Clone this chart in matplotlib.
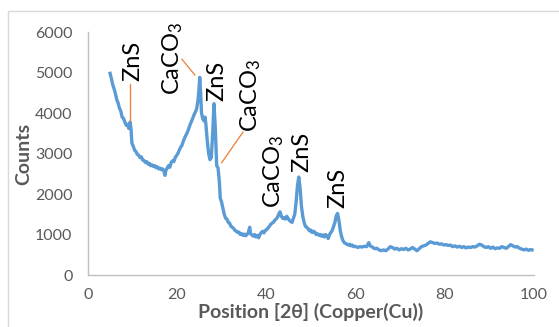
import matplotlib
matplotlib.use('Agg')
import matplotlib.pyplot as plt
from matplotlib.patches import Rectangle

# XRD pattern
two_theta = [5.0, 5.3, 5.6, 5.9, 6.2, 6.5, 6.8, 7.1, 7.4, 7.7, 8.0, 8.3, 8.6, 8.9, 9.2, 9.5, 9.7, 9.9,
             10.2, 10.5, 10.8, 11.1, 11.4, 11.7, 12.0, 12.3, 12.6, 12.9, 13.2, 13.5, 13.8, 14.1, 14.4,
             14.7, 15.0, 15.3, 15.6, 15.9, 16.2, 16.5, 16.8, 17.1, 17.3, 17.5, 17.8, 18.1, 18.4, 18.7,
             19.0, 19.3, 19.6, 19.9, 20.2, 20.5, 20.8, 21.1, 21.4, 21.7, 22.0, 22.3, 22.6, 22.9, 23.2,
             23.5, 23.8, 24.1, 24.4, 24.7, 24.9, 25.1, 25.3, 25.5, 25.8, 26.1, 26.3, 26.5, 26.8, 27.1,
             27.4, 27.7, 28.0, 28.3, 28.6, 28.9, 29.2, 29.5, 29.7, 30.0, 30.3, 30.6, 30.9, 31.2, 31.5,
             31.8, 32.1, 32.4, 32.7, 33.0, 33.3, 33.6, 33.9, 34.2, 34.5, 34.8, 35.1, 35.4, 35.7, 36.0,
             36.3, 36.5, 36.8, 37.1, 37.4, 37.7, 38.0, 38.3, 38.6, 38.9, 39.2, 39.5, 39.8, 40.1, 40.4,
             40.7, 41.0, 41.3, 41.6, 41.9, 42.2, 42.5, 42.8, 43.1, 43.4, 43.7, 44.0, 44.3, 44.6, 44.9,
             45.2, 45.5, 45.8, 46.1, 46.4, 46.7, 47.0, 47.3, 47.6, 47.9, 48.2, 48.5, 48.8, 49.1, 49.4,
             49.7, 50.0, 50.3, 50.6, 50.9, 51.2, 51.5, 51.8, 52.1, 52.4, 52.7, 53.0, 53.3, 53.6, 53.9,
             54.2, 54.5, 54.8, 55.1, 55.4, 55.7, 56.0, 56.3, 56.6, 56.9, 57.2, 57.5, 57.8, 58.1, 58.4,
             58.7, 59.0, 59.3, 59.6, 60.0, 60.5, 61.0, 61.5, 62.0, 62.5, 63.0, 63.3, 63.8, 64.3, 64.8,
             65.3, 65.8, 66.3, 66.8, 67.3, 67.8, 68.3, 68.8, 69.3, 69.8, 70.3, 70.8, 71.3, 71.8, 72.3,
             72.8, 73.3, 73.8, 74.3, 74.8, 75.3, 75.8, 76.3, 76.8, 77.3, 77.8, 78.3, 78.8, 79.3, 79.8,
             80.3, 80.8, 81.3, 81.8, 82.3, 82.8, 83.3, 83.8, 84.3, 84.8, 85.3, 85.8, 86.3, 86.8, 87.3,
             87.8, 88.3, 88.8, 89.3, 89.8, 90.3, 90.8, 91.3, 91.8, 92.3, 92.8, 93.3, 93.8, 94.3, 94.8,
             95.3, 95.8, 96.3, 96.8, 97.3, 97.8, 98.3, 98.8, 99.3, 99.6]
counts = [4980, 4850, 4700, 4600, 4480, 4330, 4250, 4120, 4050, 3900, 3870, 3780, 3700, 3720, 3620, 3780, 3600, 3250,
          3180, 3080, 3050, 2980, 2960, 2900, 2920, 2840, 2830, 2780, 2800, 2740, 2760, 2700, 2720,
          2680, 2700, 2650, 2670, 2620, 2640, 2600, 2620, 2560, 2460, 2580, 2640, 2700, 2660, 2780,
          2820, 2800, 2900, 2950, 3000, 3080, 3150, 3200, 3300, 3380, 3450, 3520, 3600, 3700, 3780,
          3860, 3950, 4020, 4100, 4300, 4550, 4880, 4500, 4000, 3850, 3800, 3900, 3700, 3300, 3000,
          2850, 2900, 3500, 4230, 3600, 2700, 2650, 2300, 1900, 1800, 1650, 1500, 1400, 1380, 1300,
          1280, 1200, 1180, 1150, 1100, 1080, 1050, 1060, 1000, 1020, 980, 1010, 970, 1000, 1050,
          1180, 1020, 990, 960, 1000, 940, 980, 920, 1000, 1050, 1080, 1040, 1100, 1120, 1160,
          1200, 1250, 1280, 1300, 1350, 1380, 1420, 1500, 1560, 1450, 1400, 1420, 1380, 1450, 1400,
          1350, 1320, 1300, 1400, 1500, 1800, 2200, 2420, 2150, 1700, 1450, 1300, 1200, 1180, 1140,
          1090, 1110, 1050, 1080, 1060, 1000, 1020, 980, 1000, 960, 990, 940, 1000, 960, 900,
          1000, 1050, 1100, 1200, 1300, 1460, 1520, 1350, 1100, 950, 850, 800, 780, 760, 740,
          760, 720, 740, 700, 710, 680, 700, 690, 710, 700, 800, 720, 690, 650, 660,
          620, 600, 620, 600, 640, 700, 680, 640, 660, 620, 650, 630, 660, 620, 640,
          680, 640, 600, 650, 700, 720, 740, 780, 820, 800, 780, 790, 760, 770, 740,
          750, 730, 740, 700, 720, 690, 710, 680, 700, 670, 690, 680, 700, 690, 720,
          760, 740, 700, 680, 700, 660, 690, 650, 670, 660, 700, 680, 660, 700, 750,
          720, 690, 700, 660, 640, 620, 640, 610, 630, 620]

# peak labels: text, x, bottom of text, leader line (x0, y0, x1, y1) or None
peak_labels = ['ZnS', 'CaCO$_3$', 'ZnS', 'CaCO$_3$', 'CaCO$_3$', 'ZnS', 'ZnS']
label_x = [10.1, 19.0, 28.9, 36.6, 41.6, 48.0, 56.0]
label_y = [4780, 4440, 4290, 3540, 1660, 2550, 1660]
leaders = [(9.4, 3800, 9.4, 4720), (21.1, 5330, 24.0, 4940), None,
           (34.8, 3530, 30.0, 2770), None, None, None]

plt.rcParams['font.family'] = ['Lato', 'DejaVu Sans']
plt.rcParams['mathtext.fontset'] = 'custom'
plt.rcParams['mathtext.rm'] = 'Lato'
plt.rcParams['mathtext.default'] = 'regular'

fig = plt.figure(figsize=(5.59, 3.27), dpi=100)
ax = fig.add_axes([0.157, 0.159, 0.798, 0.743])

fig.patches.append(Rectangle((8 / 559, -0.1), 1.2, 1.1 - 11 / 327, transform=fig.transFigure,
                             fill=False, edgecolor='#D9D9D9', linewidth=1.0))

ax.plot(two_theta, counts, color='#5B9BD5', linewidth=2.4)

for txt, lx, ly, ld in zip(peak_labels, label_x, label_y, leaders):
    ax.text(lx, ly, txt, rotation=90, ha='center', va='bottom', fontsize=17, color='black')
    if ld is not None:
        ax.plot([ld[0], ld[2]], [ld[1], ld[3]], color='#ED7D31', linewidth=0.9)

ax.set_xlim(0, 100)
ax.set_ylim(0, 6000)
ax.set_xticks(range(0, 101, 20))
ax.set_yticks(range(0, 6001, 1000))
ax.tick_params(axis='y', length=0, labelsize=11.5, colors='#595959', pad=11)
ax.tick_params(axis='x', length=0, labelsize=11.5, colors='#595959', pad=9)
for s in ['top', 'right']:
    ax.spines[s].set_visible(False)
for s in ['left', 'bottom']:
    ax.spines[s].set_color('#BFBFBF')
    ax.spines[s].set_linewidth(1.0)

ax.set_xlabel('Position [2θ] (Copper(Cu))', fontsize=14, fontweight='bold', color='#595959', labelpad=1)
ax.set_ylabel('Counts', fontsize=14, fontweight='bold', color='#595959', labelpad=2)

fig.savefig('out.png', dpi=100)
